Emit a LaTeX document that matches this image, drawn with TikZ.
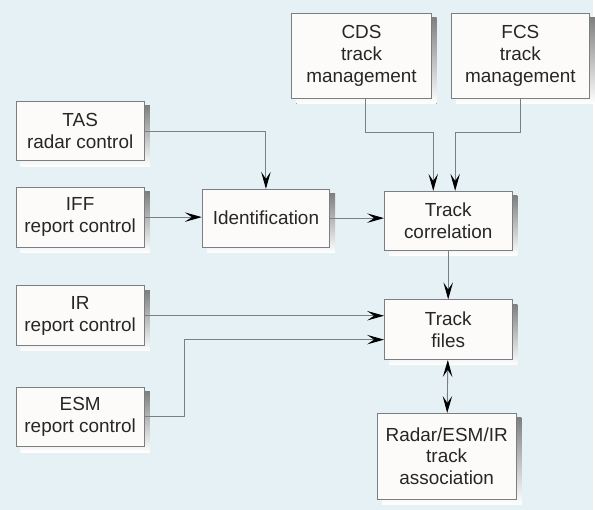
\documentclass[tikz,border=0pt]{standalone}
\usepackage{xcolor}
\usepackage{fontspec}
\setmainfont{Liberation Sans}
\usetikzlibrary{arrows.meta, backgrounds}
\definecolor{bgblue}{HTML}{E5F1F5}
\definecolor{boxfill}{HTML}{FDFBFA}
\definecolor{linegray}{HTML}{7A7F82}
\definecolor{textgray}{HTML}{262626}
\definecolor{shade}{HTML}{0D0B0A}
\tikzstyle{box} = [rectangle, align=center, draw=linegray, line width=0.8pt, fill=boxfill, text=textgray, inner sep=0pt]
\tikzstyle{small} = [box, minimum width=129pt, minimum height=60pt]
\tikzstyle{tall} = [box, minimum width=139pt, minimum height=86pt]
\tikzstyle{arrow} = [draw=linegray, line width=0.9pt, -{Stealth[length=17pt, width=9.5pt, inset=7pt, black]}]
\tikzstyle{biarrow} = [draw=linegray, line width=0.9pt, {Stealth[length=17pt, width=9.5pt, inset=7pt, black]}-{Stealth[length=17pt, width=9.5pt, inset=7pt, black]}]

\begin{document}
\begin{tikzpicture}[x=1pt, y=1pt, font=\fontsize{19}{22}\selectfont]
% left column
\node (tas) [small] at (80.5,-131.5) {TAS\\radar control};
\node (iff) [small] at (80.5,-218) {IFF\\report control};
\node (ir) [small] at (80.5,-317) {IR\\report control};
\node (esm) [small] at (80.5,-418.5) {ESM\\report control};
% middle and right
\node (ident) [small, minimum width=128pt, minimum height=58pt] at (267,-219) {Identification};
\node (cds) [tall, minimum width=140pt] at (363,-56) {CDS\\track\\management};
\node (fcs) [tall] at (522.5,-56) {FCS\\track\\management};
\node (corr) [small, minimum width=128pt, minimum height=59pt] at (450,-221.5) {Track\\correlation};
\node (files) [small, minimum width=128pt] at (450,-331) {Track\\files};
\node (assoc) [tall] at (448.5,-458) {Radar/ESM/IR\\track\\association};

\begin{scope}[on background layer]
\fill[bgblue] (0,0) rectangle (595,-512);
\foreach \n in {tas,iff,ir,esm,ident,cds,fcs,corr,files,assoc}
  \fill[shade] ([shift={(5,-5)}]\n.south west) rectangle ([shift={(5,-5)}]\n.north east);
\end{scope}

\draw[arrow] (tas) -| (ident);
\draw[arrow] (iff) -- (iff -| ident.west);
\draw[arrow] (ident) -- (ident -| corr.west);
\draw[arrow] ([xshift=4]cds.south) -- ++(0,-34) -| ([xshift=-15]corr.north);
\draw[arrow] (fcs.south) -- ++(0,-34) -| ([xshift=7]corr.north);
\draw[arrow] (corr) -- (files);
\draw[arrow] (ir) -- (ir -| files.west);
\draw[arrow] (esm.east) -- ++(40,0) |- ([yshift=-10]files.west);
\draw[biarrow] (files) -- (assoc);
\end{tikzpicture}
\end{document}
